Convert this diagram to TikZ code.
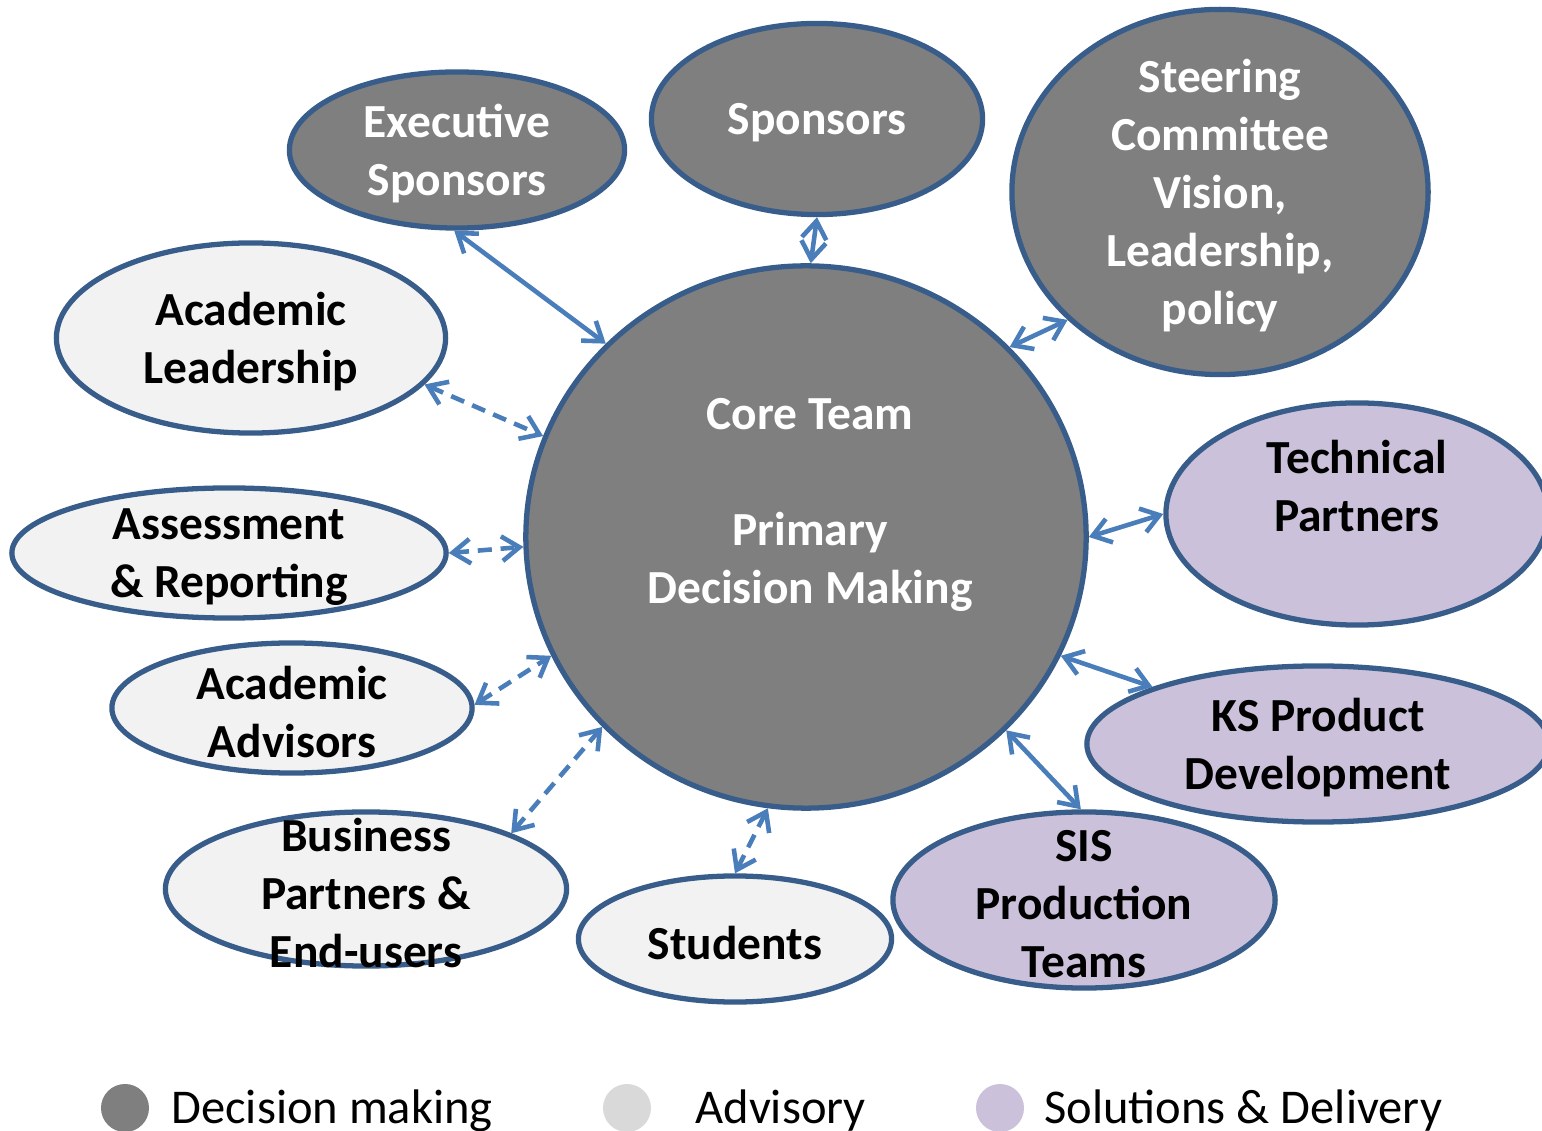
\documentclass[tikz,border=0pt]{standalone}
\usepackage{fontspec}
\setmainfont{Carlito}
\usetikzlibrary{shapes.geometric,arrows.meta}
\definecolor{rim}{RGB}{56,93,138}
\definecolor{arrowblue}{RGB}{74,126,187}
\definecolor{decgray}{RGB}{127,127,127}
\definecolor{advgray}{RGB}{242,242,242}
\definecolor{solpurple}{RGB}{204,193,218}
\definecolor{advdot}{RGB}{217,217,217}
\begin{document}
\begin{tikzpicture}[x=0.01cm, y=-0.01cm,
  bub/.style={ellipse, draw=rim, line width=1.5pt, inner sep=0pt},
  dec/.style={bub, fill=decgray},
  adv/.style={bub, fill=advgray},
  sol/.style={bub, fill=solpurple},
  txt/.style={align=center, yshift=-0.04cm, font=\fontsize{13.5}{16.5}\selectfont\bfseries},
  wtxt/.style={txt, text=white},
  link/.style={{Straight Barb[length=5pt,width=7pt]}-{Straight Barb[length=5pt,width=7pt]}, draw=arrowblue, line width=1.3pt},
  dlink/.style={link, dash pattern=on 4pt off 2.5pt},
  dot/.style={circle, minimum size=0.48cm, inner sep=0pt},
  key/.style={anchor=base west, font=\fontsize{13.8}{16.5}\selectfont}]
\useasboundingbox (0,0) rectangle (1542,1131);
\node[dec, minimum width=5.6cm, minimum height=5.42cm,
  label={[wtxt, xshift=0.04cm, yshift=0.36cm]center:{Core Team\\[16.5pt]Primary\\Decision Making}}] (core) at (806,537) {};
\node[dec, minimum width=3.35cm, minimum height=1.56cm, label={[wtxt]center:Executive\\Sponsors}] (exec) at (457,150) {};
\node[dec, minimum width=3.31cm, minimum height=1.91cm, label={[wtxt]center:Sponsors}] (spons) at (817,119) {};
\node[dec, minimum width=4.16cm, minimum height=3.65cm, label={[wtxt]center:Steering\\Committee\\Vision,\\Leadership,\\policy}] (steer) at (1220,192) {};
\node[adv, minimum width=3.89cm, minimum height=1.9cm, label={[txt]center:Academic\\Leadership}] (acadlead) at (251,338) {};
\node[adv, minimum width=4.34cm, minimum height=1.3cm, label={[txt]center:Assessment\\\& Reporting}] (assess) at (229,553) {};
\node[adv, minimum width=3.6cm, minimum height=1.3cm, label={[txt]center:Academic\\Advisors}] (advisors) at (292,708) {};
\node[adv, minimum width=4.01cm, minimum height=1.54cm, label={[txt]center:Business\\Partners \&\\End-users}] (business) at (366,889) {};
\node[adv, minimum width=3.13cm, minimum height=1.26cm, label={[txt]center:Students}] (students) at (735,939) {};
\node[sol, minimum width=3.82cm, minimum height=1.76cm, label={[txt]center:SIS\\Production\\Teams}] (sis) at (1084,900) {};
\node[sol, minimum width=4.62cm, minimum height=1.56cm, label={[txt]center:KS Product\\Development}] (ksprod) at (1318,744) {};
\node[sol, minimum width=3.82cm, minimum height=2.22cm, label={[txt, yshift=0.32cm]center:Technical\\Partners}] (tech) at (1357,514) {};
\draw[link] (exec.268) -- (core.136);
\draw[link] (spons.270) -- (core.89);
\draw[link] (steer.220) -- (core.43);
\draw[dlink] (acadlead.345) -- (core.159);
\draw[dlink] (assess.0) -- (core.182);
\draw[dlink] (advisors.1) -- (core.205);
\draw[dlink] (business.21) -- (core.223);
\draw[dlink] (students.90) -- (core.262);
\draw[link] (tech.180) -- (core.0);
\draw[link] (ksprod.161) -- (core.335);
\draw[link] (sis.92) -- (core.316);
\node[dot, fill=decgray] (kdec) at (125,1108) {};
\node[key] (kdectxt) at (159,1123) {Decision making};
\node[dot, fill=advdot] (kadv) at (627,1108) {};
\node[key] (kadvtxt) at (683,1123) {Advisory};
\node[dot, fill=solpurple] (ksol) at (1000,1108) {};
\node[key] (ksoltxt) at (1032,1123) {Solutions \& Delivery};
\end{tikzpicture}
\end{document}
